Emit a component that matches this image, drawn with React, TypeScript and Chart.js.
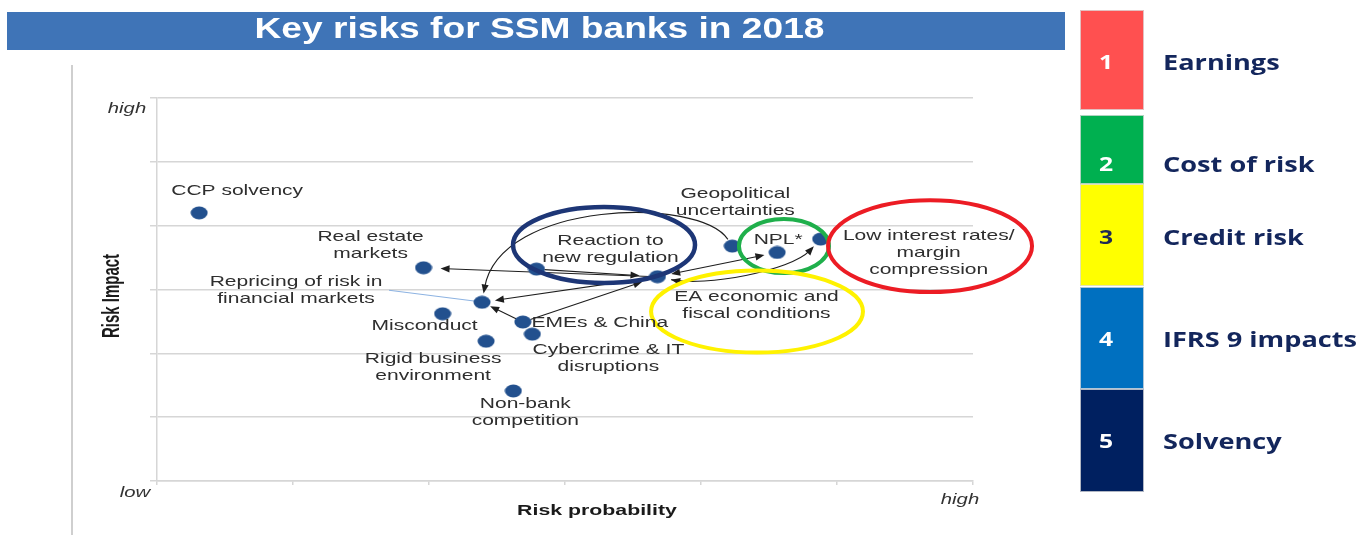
import React, { useEffect, useRef } from "react";
import { Chart, registerables } from "chart.js";

Chart.register(...registerables);

// ---------- data ----------
const riskLabels: string[][] = [
  ["CCP solvency"],
  ["Real estate", "markets"],
  ["Repricing of risk in", "financial markets"],
  ["Misconduct"],
  ["EMEs & China"],
  ["Cybercrime & IT", "disruptions"],
  ["Rigid business", "environment"],
  ["Non-bank", "competition"],
  ["Reaction to", "new regulation"],
  ["EA economic and", "fiscal conditions"],
  ["Geopolitical", "uncertainties"],
  ["NPL*"],
  ["Low interest rates/", "margin", "compression"],
];
const riskProbability = [0.31, 1.96, 2.39, 2.1, 2.69, 2.76, 2.42, 2.62, 2.79, 3.68, 4.23, 4.56, 4.88];
const riskImpact = [4.2, 3.34, 2.8, 2.62, 2.49, 2.3, 2.19, 1.41, 3.32, 3.2, 3.68, 3.58, 3.79];

const legendNumbers = ["1", "2", "3", "4", "5"];
const legendLabels = ["Earnings", "Cost of risk", "Credit risk", "IFRS 9 impacts", "Solvency"];

const titleText = "Key risks for SSM banks in 2018";
const xAxisTitle = "Risk probability";
const yAxisTitle = "Risk Impact";
const lowText = "low";
const highText = "high";

// ---------- layout / style (not data) ----------
const legendColors = ["#FF5050", "#00B050", "#FFFF00", "#0070C0", "#002060"];
const legendNumberColors = ["#FFFFFF", "#FFFFFF", "#1F2A55", "#FFFFFF", "#FFFFFF"];
const legendBoxes = [
  [10, 110],
  [115, 184],
  [184, 286],
  [287, 389],
  [389, 492],
];
const legendNumberBaselines = [69, 171, 244, 346, 448];
const legendTextBaselines = [69.5, 172, 245, 347, 449];

// label block centre offsets (px) from each dot
const labelOffsets = [
  [38, -22],
  [-53, -22.5],
  [-186, -11.5],
  [-18, 12],
  [77, 1],
  [76, 24.5],
  [-53, 26.5],
  [12, 21.5],
  [74, -19.5],
  [99, 28.5],
  [3, -43.5],
  [1, -13],
  [108, 13.5],
];

type Link = {
  from: number;
  to: number;
  g0: number;
  g1: number;
  both?: boolean;
  c1?: [number, number];
  c2?: [number, number];
};
const links: Link[] = [
  { from: 9, to: 1, g0: 8, g1: 17 },
  { from: 9, to: 2, g0: 8, g1: 13 },
  { from: 8, to: 9, g0: 8, g1: 18 },
  { from: 4, to: 9, g0: 8, g1: 16 },
  { from: 4, to: 2, g0: 7, g1: 9 },
  { from: 9, to: 11, g0: 14, g1: 13, both: true },
  { from: 9, to: 12, g0: 14, g1: 10, both: true, c1: [47, 10], c2: [-30, 32] },
  { from: 10, to: 2, g0: 8, g1: 9, c1: [-33, -50], c2: [18, -102] },
];

// ellipses in data units: cx, cy, rx, ry
const highlightEllipses = [
  { cx: 3.287, cy: 3.697, rx: 0.669, ry: 0.595, color: "#1D3676", w: 4.5 },
  { cx: 4.61, cy: 3.68, rx: 0.331, ry: 0.423, color: "#1FAF4B", w: 4 },
  { cx: 5.684, cy: 3.68, rx: 0.75, ry: 0.72, color: "#EC1C24", w: 4 },
  { cx: 4.412, cy: 2.655, rx: 0.779, ry: 0.642, color: "#FFF200", w: 4 },
];

const SX = 1.4;
const LABEL_FONT = '15px "Liberation Sans", Arial, sans-serif';
const LABEL_COLOR = "#2E2E2E";

function txt(
  ctx: CanvasRenderingContext2D,
  s: string,
  x: number,
  y: number,
  font: string,
  color: string,
  align: CanvasTextAlign,
  sx: number,
  baseline: CanvasTextBaseline = "middle",
  rot = 0
) {
  ctx.save();
  ctx.translate(x, y);
  ctx.scale(sx, 1);
  if (rot) ctx.rotate(rot);
  ctx.font = font;
  ctx.fillStyle = color;
  ctx.textAlign = align;
  ctx.textBaseline = baseline;
  ctx.fillText(s, 0, 0);
  ctx.restore();
}

function head(ctx: CanvasRenderingContext2D, tx: number, ty: number, ux: number, uy: number) {
  const L = 9,
    W = 3.6;
  const bx = tx - ux * L,
    by = ty - uy * L;
  ctx.beginPath();
  ctx.moveTo(tx, ty);
  ctx.lineTo(bx - uy * W, by + ux * W);
  ctx.lineTo(bx + uy * W, by - ux * W);
  ctx.closePath();
  ctx.fill();
}

function unit(ax: number, ay: number, bx: number, by: number) {
  const dx = bx - ax,
    dy = by - ay;
  const d = Math.hypot(dx, dy) || 1;
  return [dx / d, dy / d];
}

const overlay = {
  id: "overlay",
  beforeDraw(chart: any) {
    const ctx: CanvasRenderingContext2D = chart.ctx;
    ctx.save();
    ctx.fillStyle = "#FFFFFF";
    ctx.fillRect(0, 0, chart.width, chart.height);

    // left frame line
    ctx.strokeStyle = "#CFCFCF";
    ctx.lineWidth = 2;
    ctx.beginPath();
    ctx.moveTo(72, 65);
    ctx.lineTo(72, 535);
    ctx.stroke();

    // title banner
    ctx.fillStyle = "#3F74B7";
    ctx.fillRect(7, 12, 1058, 38);
    ctx.font = 'bold 29px "Liberation Sans", Arial, sans-serif';
    const tw = ctx.measureText(titleText).width;
    txt(ctx, titleText, 539.5, 30, ctx.font, "#FFFFFF", "center", 570 / tw);

    // legend panel
    ctx.font = 'bold 22px "Open Sans", sans-serif';
    const lw = ctx.measureText(legendLabels[3]).width;
    const lsx = 194 / lw;
    for (let i = 0; i < legendLabels.length; i++) {
      const [y0, y1] = legendBoxes[i];
      ctx.fillStyle = legendColors[i];
      ctx.fillRect(1080, y0, 64, y1 - y0);
      ctx.strokeStyle = "rgba(220,220,220,0.8)";
      ctx.lineWidth = 1;
      ctx.strokeRect(1080.5, y0 + 0.5, 63, y1 - y0 - 1);
      txt(
        ctx,
        legendNumbers[i],
        1106,
        legendNumberBaselines[i],
        'bold 20px "Open Sans", sans-serif',
        legendNumberColors[i],
        "center",
        lsx,
        "alphabetic"
      );
      txt(
        ctx,
        legendLabels[i],
        1163,
        legendTextBaselines[i],
        'bold 22px "Open Sans", sans-serif',
        "#13265C",
        "left",
        lsx,
        "alphabetic"
      );
    }
    ctx.restore();
  },
  beforeDatasetsDraw(chart: any) {
    const ctx: CanvasRenderingContext2D = chart.ctx;
    const xs = chart.scales.x,
      ys = chart.scales.y;
    const P = riskProbability.map((v, i) => [xs.getPixelForValue(v), ys.getPixelForValue(riskImpact[i])]);
    ctx.save();

    // thin blue connector for the repricing label
    const rp = P[2];
    ctx.strokeStyle = "#8DB3E2";
    ctx.lineWidth = 1.2;
    ctx.beginPath();
    ctx.moveTo(rp[0] - 93, rp[1] - 12);
    ctx.lineTo(rp[0] - 6, rp[1] - 1);
    ctx.stroke();

    ctx.strokeStyle = "#1E1E1E";
    ctx.fillStyle = "#1E1E1E";
    ctx.lineWidth = 1.1;
    for (const l of links) {
      const a = P[l.from],
        b = P[l.to];
      if (l.c1 && l.c2) {
        const c1 = [a[0] + l.c1[0], a[1] + l.c1[1]];
        const c2 = [b[0] + l.c2[0], b[1] + l.c2[1]];
        const u0 = unit(a[0], a[1], c1[0], c1[1]);
        const u1 = unit(c2[0], c2[1], b[0], b[1]);
        const s = [a[0] + u0[0] * l.g0, a[1] + u0[1] * l.g0];
        const t = [b[0] - u1[0] * l.g1, b[1] - u1[1] * l.g1];
        ctx.beginPath();
        ctx.moveTo(s[0], s[1]);
        ctx.bezierCurveTo(c1[0], c1[1], c2[0], c2[1], t[0] - u1[0] * 6, t[1] - u1[1] * 6);
        ctx.stroke();
        head(ctx, t[0], t[1], u1[0], u1[1]);
        if (l.both) head(ctx, s[0], s[1], -u0[0], -u0[1]);
      } else {
        const u = unit(a[0], a[1], b[0], b[1]);
        const s = [a[0] + u[0] * l.g0, a[1] + u[1] * l.g0];
        const t = [b[0] - u[0] * l.g1, b[1] - u[1] * l.g1];
        ctx.beginPath();
        ctx.moveTo(s[0] + (l.both ? u[0] * 6 : 0), s[1] + (l.both ? u[1] * 6 : 0));
        ctx.lineTo(t[0] - u[0] * 6, t[1] - u[1] * 6);
        ctx.stroke();
        head(ctx, t[0], t[1], u[0], u[1]);
        if (l.both) head(ctx, s[0], s[1], -u[0], -u[1]);
      }
    }
    ctx.restore();
  },
  afterDatasetsDraw(chart: any) {
    const ctx: CanvasRenderingContext2D = chart.ctx;
    const xs = chart.scales.x,
      ys = chart.scales.y;
    const area = chart.chartArea;
    ctx.save();

    // highlight ellipses
    for (const e of highlightEllipses) {
      const cx = xs.getPixelForValue(e.cx),
        cy = ys.getPixelForValue(e.cy);
      const rx = Math.abs(xs.getPixelForValue(e.cx + e.rx) - cx);
      const ry = Math.abs(ys.getPixelForValue(e.cy + e.ry) - cy);
      ctx.strokeStyle = e.color;
      ctx.lineWidth = e.w;
      ctx.beginPath();
      ctx.ellipse(cx, cy, rx, ry, 0, 0, Math.PI * 2);
      ctx.stroke();
    }

    // point labels
    for (let i = 0; i < riskLabels.length; i++) {
      const px = xs.getPixelForValue(riskProbability[i]);
      const py = ys.getPixelForValue(riskImpact[i]);
      const lines = riskLabels[i];
      const n = lines.length;
      for (let j = 0; j < n; j++) {
        const y = py + labelOffsets[i][1] + (j - (n - 1) / 2) * 17;
        txt(ctx, lines[j], px + labelOffsets[i][0], y, LABEL_FONT, LABEL_COLOR, "center", SX);
      }
    }

    // axis end labels
    const it = 'italic 14px "Liberation Sans", Arial, sans-serif';
    txt(ctx, highText, area.left - 30, area.top + 11, it, "#333333", "center", 1.45);
    txt(ctx, lowText, area.left - 22, area.bottom + 12, it, "#333333", "center", 1.45);
    txt(ctx, highText, area.right - 13, area.bottom + 19, it, "#333333", "center", 1.45);

    // axis titles
    const bf = 'bold 15px "Liberation Sans", Arial, sans-serif';
    txt(ctx, xAxisTitle, (area.left + area.right) / 2 + 32, area.bottom + 30, bf, "#1A1A1A", "center", 1.42);
    txt(ctx, yAxisTitle, 112, 296, bf, "#1A1A1A", "center", 1.6, "middle", -Math.PI / 2);

    ctx.restore();
  },
};

export default function App() {
  const ref = useRef<HTMLCanvasElement | null>(null);
  useEffect(() => {
    document.body.style.margin = "0";
    const canvas = ref.current;
    if (!canvas) return;

    const dot = document.createElement("canvas");
    dot.width = 18;
    dot.height = 14;
    const dctx = dot.getContext("2d")!;
    dctx.fillStyle = "#22508E";
    dctx.beginPath();
    dctx.ellipse(9, 7, 8.5, 6.5, 0, 0, Math.PI * 2);
    dctx.fill();

    const gridColor = "#D6D6D6";
    const chart = new Chart(canvas, {
      type: "scatter",
      data: {
        datasets: [
          {
            data: riskProbability.map((x, i) => ({ x, y: riskImpact[i] })),
            pointStyle: dot as any,
            pointRadius: 8,
            backgroundColor: "#22508E",
            borderWidth: 0,
          },
        ],
      },
      options: {
        responsive: false,
        animation: false,
        events: [],
        layout: { padding: { left: 150, top: 98, right: 389, bottom: 47 } },
        plugins: {
          legend: { display: false },
          tooltip: { enabled: false },
          title: { display: false },
        },
        scales: {
          x: {
            type: "linear",
            min: 0,
            max: 6,
            ticks: { display: false, stepSize: 1 },
            grid: { drawOnChartArea: false, drawTicks: true, tickLength: 4, color: gridColor, lineWidth: 1.5 },
            border: { display: true, color: gridColor, width: 1.5 },
            afterFit: (s: any) => {
              s.height = 7;
            },
          },
          y: {
            type: "linear",
            min: 0,
            max: 6,
            ticks: { display: false, stepSize: 1 },
            grid: { color: gridColor, lineWidth: 1.5, tickLength: 7 },
            border: { display: true, color: gridColor, width: 1.5 },
            afterFit: (s: any) => {
              s.width = 7;
            },
          },
        },
      } as any,
      plugins: [overlay as any],
    });
    return () => chart.destroy();
  }, []);

  return (
    <div style={{ position: "relative", width: 1362, height: 535 }}>
      <canvas ref={ref} width={1362} height={535} style={{ display: "block", width: 1362, height: 535 }} />
    </div>
  );
}
